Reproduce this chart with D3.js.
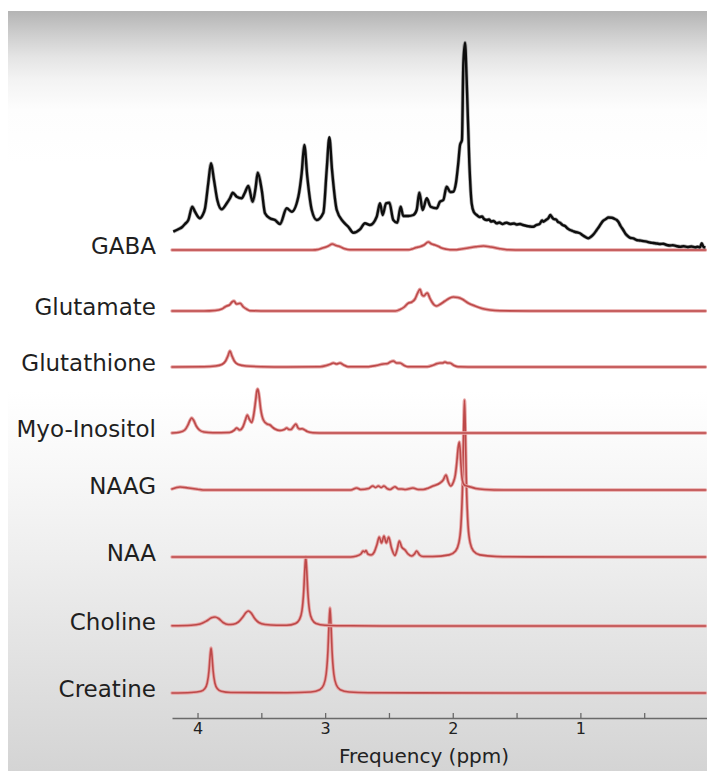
<!DOCTYPE html>
<html>
<head>
<meta charset="utf-8">
<script src="https://cdn.jsdelivr.net/npm/d3@7"></script>
<style>
  html, body { margin: 0; padding: 0; background: #ffffff; }
  svg { display: block; }
</style>
</head>
<body>
<svg id="chart" width="707" height="771"></svg>
<script>
// Basis spectra of brain metabolites stacked under a measured MR spectrum.
const metabolites = ["GABA", "Glutamate", "Glutathione", "Myo-Inositol", "NAAG", "NAA", "Choline", "Creatine"];
// vertical stacking offsets (a.u.) for each basis spectrum
const offsets = [443, 382, 326, 260, 203, 136, 67, 0];
const measuredOffset = 445;

const majorTicks = [4, 3, 2, 1];
const minorTicks = [3.5, 2.5, 1.5, 0.5];
const tickLabels = ["4", "3", "2", "1"];
const xLabel = "Frequency (ppm)";

// [ppm, amplitude]
const measured = [
  [4.19,16.3],[4.151,18.7],[4.12,21],[4.098,24],[4.072,28],[4.041,41.3],[4.02,36.3],[3.981,29.7],[3.96,33],
  [3.941,39.7],[3.916,64.7],[3.894,84.7],[3.871,68],[3.845,48],[3.811,38.7],[3.771,44.7],[3.745,50],[3.724,55.3],
  [3.693,51.3],[3.654,49.7],[3.63,55],[3.602,62],[3.568,46.3],[3.545,60],[3.528,75.3],[3.497,58],[3.471,34.7],
  [3.432,29.7],[3.393,28],[3.354,24],[3.301,39.7],[3.262,36.3],[3.21,51.3],[3.184,74.7],[3.163,103],[3.14,71.3],
  [3.105,38],[3.066,28],[3.014,35.3],[2.988,78],[2.967,110.7],[2.946,78],[2.909,38],[2.858,26.3],[2.819,21.3],
  [2.779,15.3],[2.727,18.7],[2.688,24.7],[2.649,23],[2.596,31.3],[2.57,44.7],[2.549,33],[2.523,44.7],[2.497,45.3],
  [2.466,28],[2.435,25.3],[2.408,41.3],[2.388,32],[2.348,32],[2.309,33],[2.283,38],[2.262,55.3],[2.236,38],
  [2.204,49.7],[2.173,41.3],[2.126,39.7],[2.1,46.3],[2.074,48],[2.048,61.3],[2.02,56],[1.996,56.3],[1.975,65],
  [1.957,84.7],[1.943,103],[1.928,108],[1.917,184.7],[1.904,205.3],[1.891,168],[1.87,84.7],[1.852,44.7],
  [1.835,36],[1.812,33],[1.79,31],[1.77,31.5],[1.755,29],[1.734,28],[1.715,28.5],[1.7,26.5],[1.68,27],
  [1.656,24.7],[1.635,25.5],[1.61,24],[1.59,25],[1.577,25.3],[1.55,24],[1.52,24.5],[1.5,23.5],[1.473,24],
  [1.45,23],[1.42,22],[1.395,21.5],[1.369,21.3],[1.345,23],[1.32,24],[1.3,27.5],[1.291,26.3],[1.27,28],
  [1.25,30],[1.235,33],[1.225,31.3],[1.21,29],[1.19,28.5],[1.175,26],[1.16,25.3],[1.14,23],[1.12,22],
  [1.1,19.5],[1.081,18],[1.06,17],[1.04,16],[1.02,15.5],[1.003,14.7],[0.985,13],[0.96,11],[0.938,9.7],
  [0.915,11.5],[0.895,14],[0.872,18],[0.85,22],[0.835,25],[0.82,27.3],[0.8,29],[0.78,30.5],[0.755,30.3],
  [0.73,29],[0.715,28],[0.703,26.3],[0.685,22],[0.664,18],[0.645,14],[0.625,11.5],[0.605,10],[0.585,9.7],
  [0.56,8],[0.535,7.5],[0.51,7],[0.48,6.3],[0.455,5.5],[0.43,5],[0.4,4.5],[0.375,4],[0.35,4.2],[0.324,3],
  [0.3,2.5],[0.275,2.8],[0.25,2],[0.219,1.3],[0.19,1.8],[0.16,1],[0.13,1.5],[0.1,0.8],[0.08,1.2],[0.063,0.7],
  [0.049,4.7],[0.035,1],[0.02,0.7]
];

const gaba = [
  [4.2,0],[3.1,0],[3.056,0.5],[3.025,1.8],[3.001,2.7],[2.975,4],[2.944,6],[2.915,4.5],[2.884,3.3],[2.845,1.2],
  [2.806,0.2],[2.35,0.2],[2.319,1],[2.285,2.5],[2.257,3.3],[2.225,5],[2.192,8],[2.165,6],[2.139,5],[2.11,3.5],
  [2.087,2],[2.05,0.8],[2.022,0.3],[1.97,0.3],[1.943,0.8],[1.88,2],[1.82,3.2],[1.76,4],[1.7,3],[1.64,1.5],
  [1.575,0.3],[1.45,0],[0.02,0]
];

const glutamate = [
  [4.2,0],[3.95,0],[3.863,0.5],[3.81,2],[3.785,4],[3.771,5],[3.75,6],[3.73,9],[3.714,10],[3.695,7],[3.667,7.7],
  [3.64,4],[3.61,1.5],[3.589,0.3],[3.45,0],[2.45,0],[2.413,1.5],[2.38,4],[2.351,7.7],[2.32,9],[2.296,12],
  [2.275,18],[2.257,21.7],[2.24,16],[2.225,15],[2.212,17],[2.199,18],[2.18,13],[2.163,9],[2.145,6],[2.126,5],
  [2.095,7],[2.061,10],[2.03,12.5],[1.996,14],[1.96,13.5],[1.928,12],[1.88,8],[1.826,5],[1.77,2.5],[1.708,1],
  [1.63,0.2],[1.4,0],[0.02,0]
];

const glutathione = [
  [4.2,0],[3.95,0.3],[3.86,1],[3.81,2.5],[3.78,6],[3.762,11],[3.746,16],[3.73,11],[3.712,6],[3.68,2.5],[3.62,1],
  [3.5,0.3],[3.3,0],[3.04,0.3],[2.99,1.5],[2.955,3],[2.936,4],[2.91,3],[2.884,4],[2.855,2],[2.821,0.3],
  [2.66,0.3],[2.6,1.5],[2.544,3],[2.51,3.5],[2.49,5],[2.466,6],[2.44,4],[2.413,4],[2.38,1.5],[2.351,0.3],
  [2.2,0.3],[2.15,2],[2.12,3.5],[2.1,4],[2.08,4],[2.061,5],[2.04,4],[2.022,4],[1.99,1.5],[1.959,0.3],[1.8,0],
  [0.02,0]
];

const myoInositol = [
  [4.2,0],[4.14,0.8],[4.1,3],[4.075,8],[4.058,13],[4.046,15],[4.032,13],[4.01,7],[3.985,3],[3.95,1],[3.88,0.2],
  [3.75,0.5],[3.71,3],[3.693,5],[3.67,3],[3.645,6],[3.625,13],[3.61,18],[3.595,14],[3.575,10.5],[3.56,18],
  [3.545,32],[3.535,42],[3.528,44],[3.518,38],[3.505,24],[3.484,13],[3.455,9],[3.432,8],[3.41,5.5],[3.393,4],
  [3.354,2.5],[3.32,3.5],[3.301,5],[3.283,3.5],[3.268,3.5],[3.245,7],[3.229,9],[3.212,5],[3.197,4],[3.18,4.2],
  [3.166,3.5],[3.14,1.5],[3.096,0.3],[3.0,0],[0.02,0]
];

const naag = [
  [4.2,1],[4.137,3],[4.07,2],[4.0,0.8],[3.957,0],[2.8,0],[2.753,2],[2.72,0.5],[2.66,1.5],[2.627,4],[2.605,2.5],
  [2.583,4],[2.561,2.5],[2.539,4],[2.515,1.5],[2.492,0.5],[2.453,3.3],[2.425,1],[2.4,1],[2.37,0.5],[2.312,2],
  [2.27,0.5],[2.233,0.5],[2.19,2],[2.155,4],[2.1,7],[2.075,10],[2.053,15],[2.035,8],[2.016,4],[1.995,8],
  [1.98,15],[1.968,28],[1.958,42],[1.949,48],[1.942,40],[1.934,22],[1.925,10],[1.91,5],[1.89,4],[1.86,3],
  [1.82,1.5],[1.75,0.5],[1.6,0],[0.02,0]
];

const naa = [
  [4.2,0],[2.8,0],[2.76,0.8],[2.72,3],[2.703,6],[2.69,5],[2.68,6.5],[2.665,3],[2.64,2],[2.615,5],[2.595,12],
  [2.576,20],[2.558,14],[2.539,21],[2.521,14],[2.502,20],[2.48,9],[2.453,1.5],[2.435,8],[2.419,16],[2.4,10],
  [2.374,7],[2.35,3],[2.322,1],[2.3,3],[2.283,6],[2.26,2],[2.233,0.5],[2.158,0.5],[2.028,2.1],[1.978,6],
  [1.953,13.9],[1.936,31.4],[1.922,78.5],[1.915,125.6],[1.908,157],[1.901,125.6],[1.894,78.5],[1.88,31.4],
  [1.863,13.9],[1.838,6],[1.788,2.1],[1.66,0.5],[1.4,0.1],[0.02,0]
];

const choline = [
  [4.2,0.3],[4.05,0.8],[3.98,2],[3.93,5],[3.89,8.3],[3.863,9],[3.835,7.5],[3.8,3.5],[3.76,1.5],[3.72,1.8],
  [3.68,4],[3.645,9],[3.62,13.5],[3.602,15],[3.58,13],[3.555,8],[3.52,3.5],[3.47,1.5],[3.38,0.8],[3.302,0.8],
  [3.232,2.6],[3.202,6.4],[3.182,15],[3.168,34.5],[3.16,55],[3.152,69],[3.144,55],[3.136,34.5],[3.122,15],
  [3.102,6.4],[3.072,2.6],[3.0,0.8],[2.8,0.2],[2.4,0],[0.02,0]
];

const creatine = [
  [4.2,0],[4.05,0.5],[3.974,1.7],[3.944,4.2],[3.924,10],[3.91,22.5],[3.902,36],[3.894,45],[3.886,36],[3.878,22.5],
  [3.864,10],[3.844,4.2],[3.814,1.7],[3.74,0.5],[3.3,0.2],[3.112,1],[3.042,3.3],[3.012,8],[2.992,19],[2.978,42.5],
  [2.97,68],[2.962,85],[2.954,68],[2.946,42.5],[2.932,19],[2.912,8],[2.882,3.3],[2.812,1],[2.66,0.3],[2.3,0.1],
  [0.02,0]
];

const basisSpectra = [gaba, glutamate, glutathione, myoInositol, naag, naa, choline, creatine];

// ---- drawing ----
const W = 707, H = 771;
const svg = d3.select("#chart");

// panel background: grey fade at the top, light grey at the bottom
const defs = svg.append("defs");
const grad = defs.append("linearGradient")
  .attr("id", "panelBg")
  .attr("gradientUnits", "userSpaceOnUse")
  .attr("x1", 0).attr("y1", 11).attr("x2", 0).attr("y2", H);
[
  [0, "#b4b4b4"], [0.03, "#cdcdcd"], [0.06, "#e4e4e4"], [0.09, "#f3f3f3"], [0.13, "#fdfdfd"],
  [0.2, "#ffffff"], [0.5, "#ffffff"], [0.6, "#f8f8f8"], [0.72, "#eeeeee"], [0.85, "#e2e2e2"], [1, "#d4d4d4"]
].forEach(([o, c]) => grad.append("stop").attr("offset", o).attr("stop-color", c));

svg.append("rect").attr("x", 0).attr("y", 0).attr("width", W).attr("height", H).attr("fill", "#ffffff");
svg.append("rect").attr("x", 8).attr("y", 11).attr("width", W - 8).attr("height", H - 11)
  .attr("fill", "url(#panelBg)");

const x = d3.scaleLinear().domain([4.2, 0]).range([172, 708]);
const y = d3.scaleLinear().domain([0, 500]).range([693, 193]);

const lineFor = (offset) => d3.line()
  .x(d => x(d[0]))
  .y(d => y(offset + d[1]))
  .curve(d3.curveMonotoneX);

// basis spectra, drawn bottom to top
const basisG = svg.append("g").attr("class", "basis");
for (let i = basisSpectra.length - 1; i >= 0; i--) {
  const path = lineFor(offsets[i])(basisSpectra[i]);
  basisG.append("path").attr("d", path)
    .attr("fill", "none").attr("stroke", "#e7a7a7").attr("stroke-width", 3.4)
    .attr("stroke-linejoin", "round").attr("stroke-linecap", "round");
  basisG.append("path").attr("d", path)
    .attr("fill", "none").attr("stroke", "#bd4949").attr("stroke-width", 1.6)
    .attr("stroke-linejoin", "round").attr("stroke-linecap", "round");
}

// metabolite names
svg.append("g").selectAll("text")
  .data(metabolites)
  .join("text")
  .attr("x", 156)
  .attr("y", (d, i) => y(offsets[i]) + 4)
  .attr("text-anchor", "end")
  .attr("font-family", "DejaVu Sans, sans-serif")
  .attr("font-size", 23)
  .attr("fill", "#1f1f1f")
  .text(d => d);

// measured spectrum
const mPath = lineFor(measuredOffset)(measured);
svg.append("path").attr("d", mPath)
  .attr("fill", "none").attr("stroke", "#7a7a7a").attr("stroke-opacity", 0.6).attr("stroke-width", 3.8)
  .attr("stroke-linejoin", "round");
svg.append("path").attr("d", mPath)
  .attr("fill", "none").attr("stroke", "#0d0d0d").attr("stroke-width", 2.4)
  .attr("stroke-linejoin", "round");

// frequency axis with inward ticks
const allTicks = majorTicks.concat(minorTicks).sort((a, b) => b - a);
const axis = d3.axisBottom(x)
  .tickValues(allTicks)
  .tickSizeInner(-5)
  .tickSizeOuter(0)
  .tickPadding(5)
  .tickFormat(v => {
    const k = majorTicks.indexOf(v);
    return k >= 0 ? tickLabels[k] : "";
  });

const axisG = svg.append("g").attr("transform", "translate(0,718)").call(axis);
axisG.select(".domain").attr("stroke", "#6a6a6a").attr("stroke-width", 1.5);
axisG.selectAll(".tick line").attr("stroke", "#6a6a6a").attr("stroke-width", 1.3);
axisG.selectAll(".tick text")
  .attr("font-family", "DejaVu Sans, sans-serif")
  .attr("font-size", 16)
  .attr("fill", "#222");

svg.append("text")
  .attr("x", 424).attr("y", 763)
  .attr("text-anchor", "middle")
  .attr("font-family", "DejaVu Sans, sans-serif")
  .attr("font-size", 20)
  .attr("fill", "#222")
  .text(xLabel);
</script>
</body>
</html>
